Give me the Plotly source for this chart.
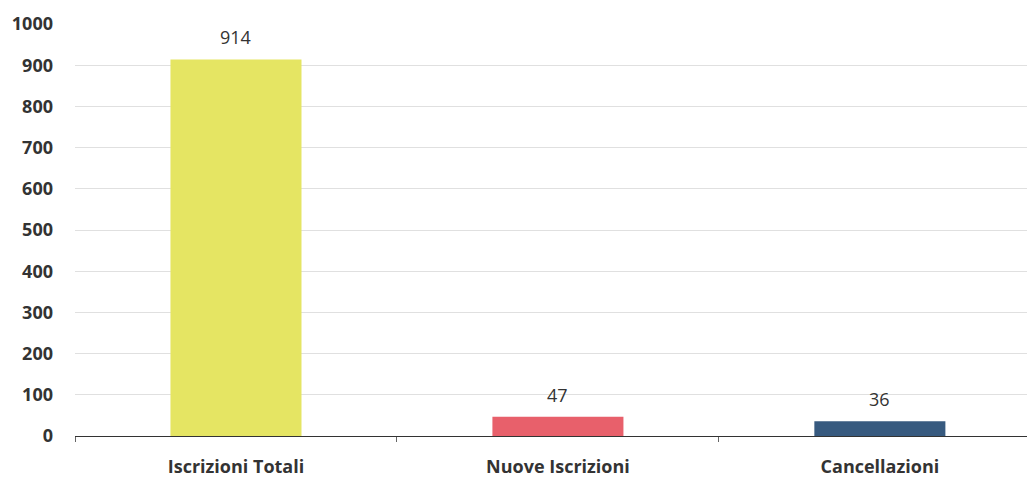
import plotly.graph_objects as go

categories = ["Iscrizioni Totali", "Nuove Iscrizioni", "Cancellazioni"]
values = [914, 47, 36]
bar_colors = ["#E5E563", "#E8606B", "#375A7F"]
y_ticks = [0, 100, 200, 300, 400, 500, 600, 700, 800, 900, 1000]

FONT = "Open Sans, DejaVu Sans, sans-serif"

fig = go.Figure(
    go.Bar(
        x=categories,
        y=values,
        marker=dict(color=bar_colors, line=dict(width=0)),
        width=0.407,
        hoverinfo="x+y",
    )
)

for cat, val in zip(categories, values):
    fig.add_annotation(
        x=cat, y=val, text=str(val), showarrow=False,
        yanchor="bottom", yshift=8,
        font=dict(family=FONT, size=18, color="#333333"),
    )

fig.update_layout(
    width=1027, height=477,
    margin=dict(l=75, r=0, t=24, b=41),
    paper_bgcolor="white", plot_bgcolor="white",
    showlegend=False,
    xaxis=dict(
        range=[-0.5, 2.457],
        automargin=False,
        showgrid=False,
        showline=True, linecolor="#333333", linewidth=1,
        ticks="outside", tickson="boundaries", ticklen=5,
        tickcolor="#666666", tickwidth=1,
        ticklabelstandoff=14,
        tickfont=dict(family=FONT, size=18, color="#333333", weight="bold"),
    ),
    yaxis=dict(
        range=[0, 1000],
        automargin=False,
        tickvals=y_ticks,
        showgrid=True, gridcolor="#E0E0E0", gridwidth=1,
        zeroline=False,
        showline=False,
        ticks="",
        ticklabelstandoff=21,
        tickfont=dict(family=FONT, size=18, color="#333333", weight="bold"),
    ),
)

fig.write_html("out.html")
